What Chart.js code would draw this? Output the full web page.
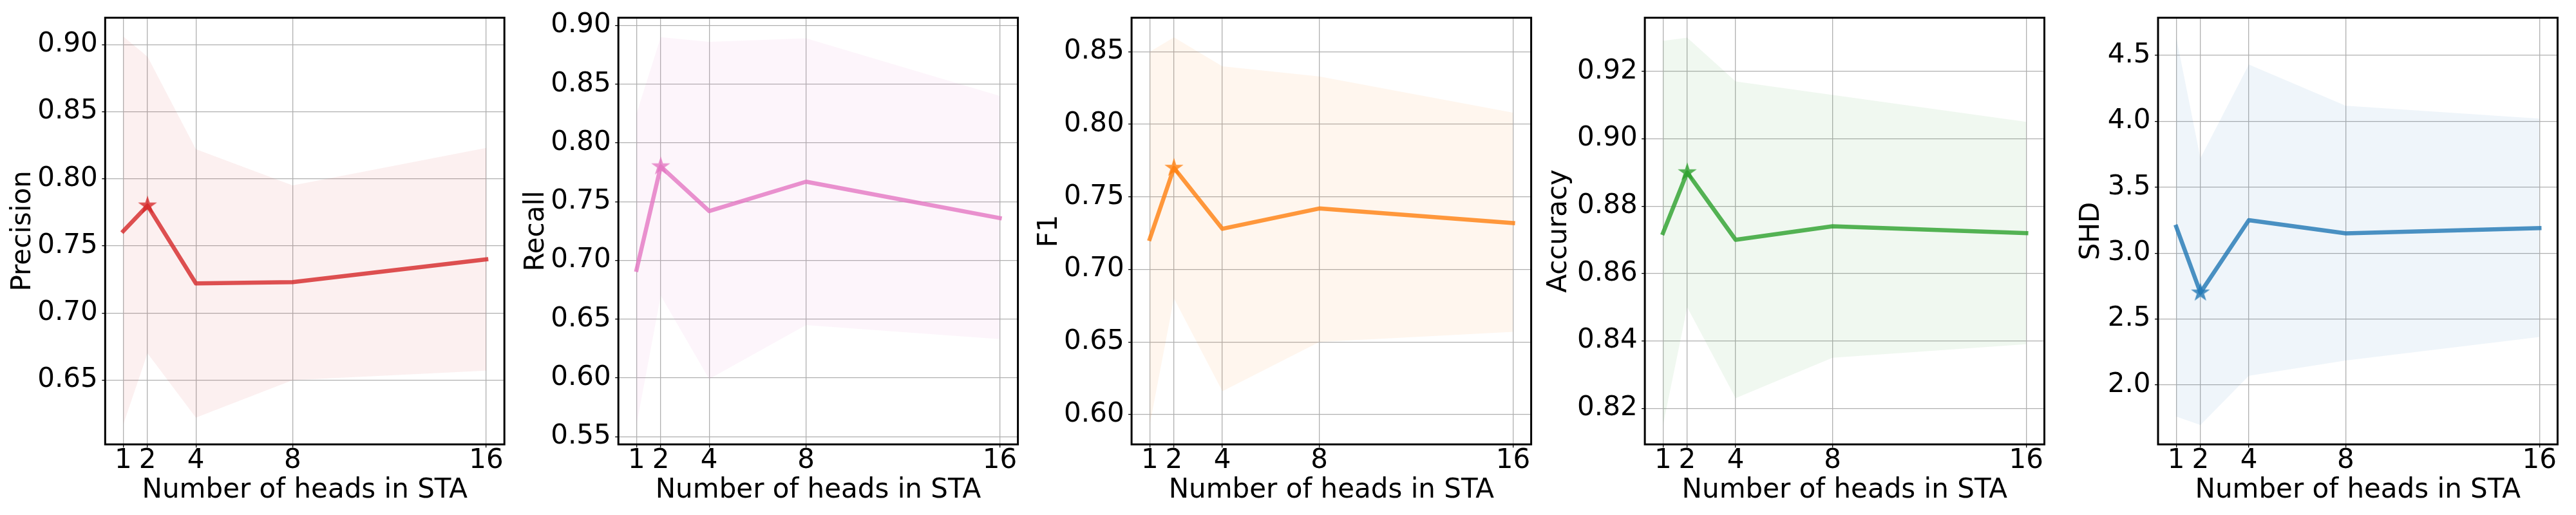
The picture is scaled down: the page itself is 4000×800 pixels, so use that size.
<!DOCTYPE html>
<html>
<head>
<meta charset="utf-8">
<script src="https://cdn.jsdelivr.net/npm/chart.js@4.4.1/dist/chart.umd.min.js"></script>
<style>
  html, body { margin: 0; padding: 0; background: #ffffff; }
  #wrap { position: relative; width: 4000px; height: 800px; background: #ffffff; overflow: hidden; }
  .cell { position: absolute; top: 0; width: 800px; height: 800px; }
</style>
</head>
<body>
<div id="wrap">
  <div class="cell" style="left:0px"><canvas id="c0" width="800" height="800"></canvas></div>
  <div class="cell" style="left:800px"><canvas id="c1" width="800" height="800"></canvas></div>
  <div class="cell" style="left:1600px"><canvas id="c2" width="800" height="800"></canvas></div>
  <div class="cell" style="left:2400px"><canvas id="c3" width="800" height="800"></canvas></div>
  <div class="cell" style="left:3200px"><canvas id="c4" width="800" height="800"></canvas></div>
</div>
<script>
// ---------------- DATA ----------------
const heads = [1, 2, 4, 8, 16];
const xTickLabels = ['1', '2', '4', '8', '16'];
const xAxisTitle = 'Number of heads in STA';
const bestIndex = 1; // x = 2 is marked with a star in every panel

const precisionMean  = [0.761, 0.780, 0.722, 0.723, 0.740];
const precisionUpper = [0.906, 0.891, 0.822, 0.795, 0.823];
const precisionLower = [0.617, 0.670, 0.622, 0.650, 0.657];
const precisionTicks = [0.65, 0.70, 0.75, 0.80, 0.85, 0.90];
const precisionTickLabels = ['0.65', '0.70', '0.75', '0.80', '0.85', '0.90'];

const recallMean  = [0.692, 0.780, 0.742, 0.767, 0.736];
const recallUpper = [0.825, 0.890, 0.886, 0.889, 0.840];
const recallLower = [0.560, 0.670, 0.599, 0.645, 0.633];
const recallTicks = [0.55, 0.60, 0.65, 0.70, 0.75, 0.80, 0.85, 0.90];
const recallTickLabels = ['0.55', '0.60', '0.65', '0.70', '0.75', '0.80', '0.85', '0.90'];

const f1Mean  = [0.721, 0.770, 0.728, 0.742, 0.732];
const f1Upper = [0.850, 0.860, 0.840, 0.833, 0.808];
const f1Lower = [0.593, 0.680, 0.616, 0.650, 0.657];
const f1Ticks = [0.60, 0.65, 0.70, 0.75, 0.80, 0.85];
const f1TickLabels = ['0.60', '0.65', '0.70', '0.75', '0.80', '0.85'];

const accuracyMean  = [0.872, 0.890, 0.870, 0.874, 0.872];
const accuracyUpper = [0.929, 0.930, 0.917, 0.913, 0.905];
const accuracyLower = [0.815, 0.850, 0.823, 0.835, 0.839];
const accuracyTicks = [0.82, 0.84, 0.86, 0.88, 0.90, 0.92];
const accuracyTickLabels = ['0.82', '0.84', '0.86', '0.88', '0.90', '0.92'];

const shdMean  = [3.20, 2.70, 3.25, 3.15, 3.19];
const shdUpper = [4.638, 3.72, 4.43, 4.118, 4.02];
const shdLower = [1.761, 1.696, 2.069, 2.185, 2.364];
const shdTicks = [2.0, 2.5, 3.0, 3.5, 4.0, 4.5];
const shdTickLabels = ['2.0', '2.5', '3.0', '3.5', '4.0', '4.5'];

// ---------------- PANEL SETUP (styles / layout) ----------------
const panels = [
  { id: 'c0', title: 'Precision', mean: precisionMean, upper: precisionUpper, lower: precisionLower,
    ticks: precisionTicks, tickLabels: precisionTickLabels, yMin: 0.6021, yMax: 0.9200,
    color: '#d62728', areaLeft: 163.3, areaRight: 783.2, titlePad: 19.2 },
  { id: 'c1', title: 'Recall', mean: recallMean, upper: recallUpper, lower: recallLower,
    ticks: recallTicks, tickLabels: recallTickLabels, yMin: 0.5434, yMax: 0.9066,
    color: '#e377c2', areaLeft: 160.2, areaRight: 780.6, titlePad: 16.7 },
  { id: 'c2', title: 'F1', mean: f1Mean, upper: f1Upper, lower: f1Lower,
    ticks: f1Ticks, tickLabels: f1TickLabels, yMin: 0.5794, yMax: 0.8735,
    color: '#ff7f0e', areaLeft: 157.1, areaRight: 777.6, titlePad: 12.8 },
  { id: 'c3', title: 'Accuracy', mean: accuracyMean, upper: accuracyUpper, lower: accuracyLower,
    ticks: accuracyTicks, tickLabels: accuracyTickLabels, yMin: 0.8093, yMax: 0.9359,
    color: '#2ca02c', areaLeft: 154.1, areaRight: 774.5, titlePad: 4.2 },
  { id: 'c4', title: 'SHD', mean: shdMean, upper: shdUpper, lower: shdLower,
    ticks: shdTicks, tickLabels: shdTickLabels, yMin: 1.549, yMax: 4.7856,
    color: '#1f77b4', areaLeft: 151.0, areaRight: 771.4, titlePad: 31.7 }
];

const AREA_TOP = 19.4;
const AREA_BOTTOM = 690.3;
const CANVAS_SIZE = 800;
const FONT = 'DejaVu Sans';

function rgba(hex, a) {
  const n = parseInt(hex.slice(1), 16);
  return 'rgba(' + ((n >> 16) & 255) + ',' + ((n >> 8) & 255) + ',' + (n & 255) + ',' + a + ')';
}

function makeStar(color) {
  const size = 36;
  const c = document.createElement('canvas');
  c.width = size; c.height = size;
  const ctx = c.getContext('2d');
  const R = 15.5, r = R * 0.381966, cx = size / 2, cy = size / 2;
  ctx.beginPath();
  for (let k = 0; k < 10; k++) {
    const rad = (k % 2 === 0) ? R : r;
    const ang = -Math.PI / 2 + k * Math.PI / 5;
    const px = cx + rad * Math.cos(ang), py = cy + rad * Math.sin(ang);
    if (k === 0) ctx.moveTo(px, py); else ctx.lineTo(px, py);
  }
  ctx.closePath();
  ctx.fillStyle = rgba(color, 0.8);
  ctx.fill();
  return c;
}

const framePlugin = {
  id: 'frame',
  afterDatasetsDraw(chart) {
    const a = chart.chartArea, ctx = chart.ctx;
    ctx.save();
    ctx.strokeStyle = '#000000';
    ctx.lineWidth = 3;
    ctx.lineJoin = 'miter';
    ctx.strokeRect(a.left, a.top, a.right - a.left, a.bottom - a.top);
    ctx.restore();
  }
};

const toPts = (ys) => heads.map((h, i) => ({ x: h, y: ys[i] }));

panels.forEach((p) => {
  const ctx = document.getElementById(p.id).getContext('2d');
  new Chart(ctx, {
    type: 'line',
    data: {
      datasets: [
        { label: 'lower', data: toPts(p.lower), borderWidth: 0, pointRadius: 0,
          borderColor: 'rgba(0,0,0,0)', backgroundColor: rgba(p.color, 0.07), fill: false, tension: 0 },
        { label: 'upper', data: toPts(p.upper), borderWidth: 0, pointRadius: 0,
          borderColor: 'rgba(0,0,0,0)', backgroundColor: rgba(p.color, 0.07), fill: '-1', tension: 0 },
        { label: 'mean', data: toPts(p.mean), borderWidth: 6.5, pointRadius: 0,
          borderColor: rgba(p.color, 0.8), backgroundColor: rgba(p.color, 0.8), fill: false, tension: 0,
          borderCapStyle: 'square', borderJoinStyle: 'round' },
        { label: 'best', data: [{ x: heads[bestIndex], y: p.mean[bestIndex] }], showLine: false,
          pointRadius: 10, pointHoverRadius: 10, pointStyle: makeStar(p.color), fill: false }
      ]
    },
    options: {
      responsive: false,
      animation: false,
      devicePixelRatio: 1,
      events: [],
      layout: { padding: { left: 0, right: CANVAS_SIZE - p.areaRight, top: AREA_TOP, bottom: 0 } },
      plugins: { legend: { display: false }, tooltip: { enabled: false } },
      scales: {
        x: {
          type: 'linear', min: 0.25, max: 16.75,
          afterBuildTicks: (s) => { s.ticks = heads.map((v) => ({ value: v })); },
          afterFit: (s) => { s.height = CANVAS_SIZE - AREA_BOTTOM; },
          ticks: {
            autoSkip: false, maxRotation: 0, minRotation: 0, padding: 0, color: '#000000',
            font: { family: FONT, size: 42, lineHeight: 1 },
            callback: (v, i) => xTickLabels[i]
          },
          grid: { color: '#b0b0b0', lineWidth: 1.3, drawTicks: true, tickLength: 5,
                  tickColor: '#000000', tickWidth: 1.3 },
          border: { display: false },
          title: { display: true, text: xAxisTitle, color: '#000000',
                   font: { family: FONT, size: 42, lineHeight: 0.8 }, padding: { top: 0, bottom: 21.2 } }
        },
        y: {
          type: 'linear', min: p.yMin, max: p.yMax,
          afterBuildTicks: (s) => { s.ticks = p.ticks.map((v) => ({ value: v })); },
          afterFit: (s) => { s.width = p.areaLeft; },
          ticks: {
            autoSkip: false, padding: 6.5, color: '#000000',
            font: { family: FONT, size: 42, lineHeight: 1 },
            callback: (v, i) => p.tickLabels[i]
          },
          grid: { color: '#b0b0b0', lineWidth: 1.3, drawTicks: true, tickLength: 5,
                  tickColor: '#000000', tickWidth: 1.3 },
          border: { display: false },
          title: { display: true, text: p.title, color: '#000000',
                   font: { family: FONT, size: 42, lineHeight: 0.8 }, padding: { top: p.titlePad, bottom: 0 } }
        }
      }
    },
    plugins: [framePlugin]
  });
});
</script>
</body>
</html>
